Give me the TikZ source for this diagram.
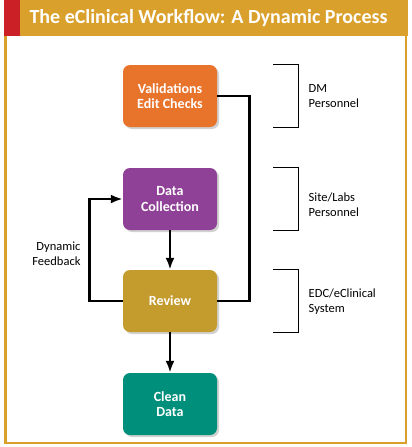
\documentclass[tikz,border=0pt]{standalone}
\usepackage{fontspec}
\setmainfont{Carlito}
\usepackage{tikz}
\usetikzlibrary{arrows.meta,shadows}

\definecolor{titlegold}{RGB}{218,160,44}
\definecolor{titlered}{RGB}{204,32,39}
\definecolor{valorange}{RGB}{232,116,44}
\definecolor{datpurple}{RGB}{142,65,150}
\definecolor{revgold}{RGB}{196,155,45}
\definecolor{cleanteal}{RGB}{0,143,122}

\begin{document}
\begin{tikzpicture}
[x=1pt,y=-1pt,
 stage/.style={rounded corners=7pt,minimum width=94pt,minimum height=62pt,
   text=white,font=\fontsize{14}{15.5}\selectfont\bfseries,align=center,
   drop shadow={shadow xshift=2pt,shadow yshift=-2pt,fill=gray!45,opacity=.8}},
 flow/.style={line width=2.8pt,-{Latex[length=12pt,width=9pt]}},
 side/.style={font=\fontsize{12.5}{15}\selectfont,align=left,anchor=west}]
\useasboundingbox (0,0) rectangle (412,447);
% title bar and frame
\fill[titlegold] (4,0) rectangle (408,36);
\fill[titlered] (4,0) rectangle (20,36);
\node[anchor=west,text=white,font=\fontsize{20}{22}\selectfont\bfseries] (title) at (26,18) {The eClinical Workflow: A Dynamic Process};
\draw[titlegold,line width=2.5pt] (5.5,36) -- (5.5,443) -- (406,443) -- (406,36);

\node[stage,fill=valorange] (val) at (170,96) {Validations\\Edit Checks};
\node[stage,fill=datpurple] (dat) at (170,199) {Data\\Collection};
\node[stage,fill=revgold] (rev) at (170,301) {Review};
\node[stage,fill=cleanteal] (cln) at (170,404) {Clean\\Data};

\foreach \from/\to in {dat/rev,rev/cln}
\draw[flow] (\from) -- (\to);
\draw[flow] (rev.west) -- ++(-33,0) |- (dat.west);
\draw[line width=2.8pt] (val.east) -- ++(32,0) |- (rev.east);
\node[anchor=east,align=right,font=\fontsize{12.5}{15}\selectfont] (fb) at (84,254) {Dynamic\\Feedback};

% brackets
\foreach \b/\t/\dy in {val/{DM\\Personnel}/0,dat/{Site/Labs\\Personnel}/-6,rev/{EDC/eClinical\\System}/-1}{
\draw[line width=.9pt] ([xshift=56pt]\b.north east) -- ++(25,0) |- ([xshift=56pt]\b.south east);
\node[side] (lbl-\b) at ([xshift=88pt,yshift=\dy pt]\b.east) {\t};
}

\end{tikzpicture}
\end{document}
